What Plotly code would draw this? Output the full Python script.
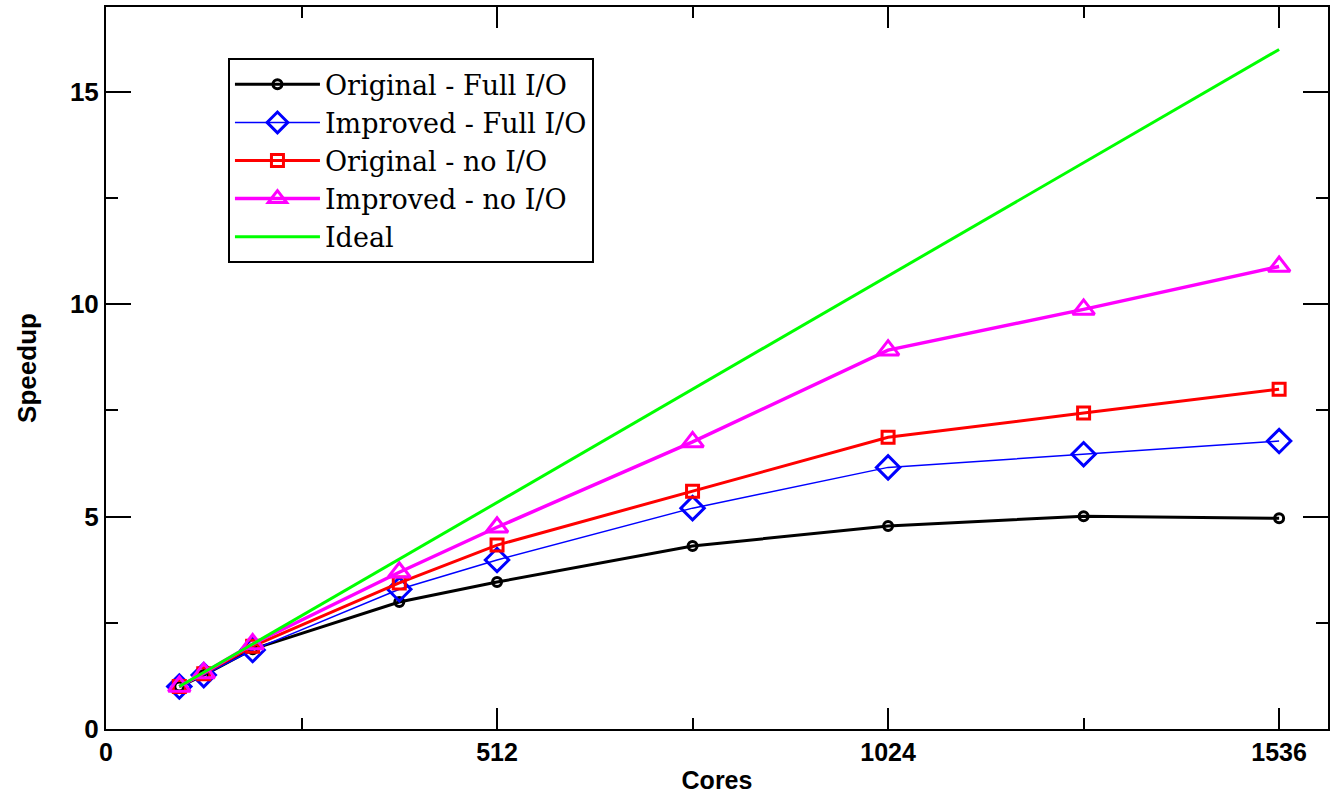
import plotly.graph_objects as go

cores = [96, 128, 192, 384, 512, 768, 1024, 1280, 1536]
orig_full = [1.0, 1.27, 1.88, 2.99, 3.46, 4.31, 4.78, 5.01, 4.96]
impr_full = [1.0, 1.27, 1.86, 3.29, 3.98, 5.2, 6.16, 6.47, 6.78]
orig_noio = [1.0, 1.3, 1.95, 3.44, 4.33, 5.6, 6.87, 7.44, 8.0]
impr_noio = [1.0, 1.32, 2.0, 3.69, 4.75, 6.76, 8.92, 9.88, 10.89]
ideal_x = [96, 1536]
ideal_y = [1.0, 16.0]

names = ["Original - Full I/O", "Improved - Full I/O", "Original - no I/O",
         "Improved - no I/O", "Ideal"]
x_ticks = [0, 512, 1024, 1536]
y_ticks = [0, 5, 10, 15]

fig = go.Figure()
fig.add_trace(go.Scatter(x=cores, y=orig_full, name=names[0], mode="lines+markers",
                         line=dict(color="black", width=3),
                         marker=dict(symbol="circle-open", size=9, color="black",
                                     line=dict(width=3))))
fig.add_trace(go.Scatter(x=cores, y=impr_full, name=names[1], mode="lines+markers",
                         line=dict(color="#0000ff", width=1.5),
                         marker=dict(symbol="diamond-open", size=18, color="#0000ff",
                                     line=dict(width=3))))
fig.add_trace(go.Scatter(x=cores, y=orig_noio, name=names[2], mode="lines+markers",
                         line=dict(color="#ff0000", width=3),
                         marker=dict(symbol="square-open", size=12, color="#ff0000",
                                     line=dict(width=3))))
fig.add_trace(go.Scatter(x=cores, y=impr_noio, name=names[3], mode="lines+markers",
                         line=dict(color="#ff00ff", width=3.5),
                         marker=dict(symbol="triangle-up-open", size=19, color="#ff00ff",
                                     line=dict(width=3))))
fig.add_trace(go.Scatter(x=ideal_x, y=ideal_y, name=names[4], mode="lines",
                         line=dict(color="#00ff00", width=3)))

sans = "Liberation Sans, Arial, sans-serif"

fig.update_layout(
    width=1330, height=797,
    margin=dict(l=106, r=2, t=7, b=68),
    paper_bgcolor="white", plot_bgcolor="white",
    showlegend=True,
    legend=dict(x=0.0998, y=0.929, xanchor="left", yanchor="top",
                bgcolor="white", bordercolor="black", borderwidth=2,
                font=dict(family="DejaVu Serif, Liberation Serif, serif", size=27, color="black"),
                itemwidth=85, tracegroupgap=0),
    xaxis=dict(range=[0, 1600], tickvals=x_ticks,
               ticktext=["<b>%d</b>" % v for v in x_ticks],
               ticks="inside", ticklen=21, tickwidth=2, tickcolor="black",
               showline=True, linecolor="black", linewidth=2, mirror="ticks",
               showgrid=False, zeroline=False, automargin=False,
               tickfont=dict(family=sans, size=25, color="black"),
               title=dict(text="<b>Cores</b>", font=dict(family=sans, size=25, color="black"), standoff=6),
               minor=dict(tickvals=[256, 768, 1280], ticks="inside", ticklen=11,
                          tickwidth=2, tickcolor="black", showgrid=False)),
    yaxis=dict(range=[0, 17], tickvals=y_ticks,
               ticktext=["<b>%d</b>" % v for v in y_ticks],
               ticks="inside", ticklen=25, tickwidth=2, tickcolor="black",
               showline=True, linecolor="black", linewidth=2, mirror="ticks",
               showgrid=False, zeroline=False, automargin=False,
               tickfont=dict(family=sans, size=26, color="black"),
               title=dict(text="<b>Speedup</b>", font=dict(family=sans, size=26, color="black"), standoff=26),
               minor=dict(tickvals=[2.5, 7.5, 12.5], ticks="inside", ticklen=12,
                          tickwidth=2, tickcolor="black", showgrid=False)),
)

fig.write_html("out.html", config={"displayModeBar": False},
               post_script="document.body.style.margin='0';document.body.style.overflow='hidden';")
